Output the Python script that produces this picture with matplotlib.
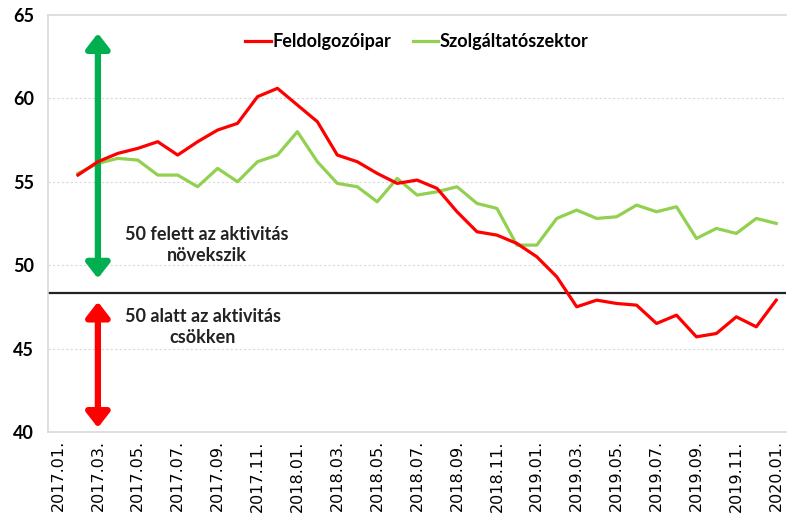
import matplotlib
matplotlib.use('Agg')
import matplotlib.pyplot as plt

months = ['2017.01.', '2017.02.', '2017.03.', '2017.04.', '2017.05.', '2017.06.', '2017.07.',
          '2017.08.', '2017.09.', '2017.10.', '2017.11.', '2017.12.', '2018.01.', '2018.02.',
          '2018.03.', '2018.04.', '2018.05.', '2018.06.', '2018.07.', '2018.08.', '2018.09.',
          '2018.10.', '2018.11.', '2018.12.', '2019.01.', '2019.02.', '2019.03.', '2019.04.',
          '2019.05.', '2019.06.', '2019.07.', '2019.08.', '2019.09.', '2019.10.', '2019.11.',
          '2019.12.', '2020.01.']

# data starts at 2017.02.
feldolgozoipar = [55.4, 56.2, 56.7, 57.0, 57.4, 56.6, 57.4, 58.1, 58.5, 60.1, 60.6, 59.6,
                  58.6, 56.6, 56.2, 55.5, 54.9, 55.1, 54.6, 53.2, 52.0, 51.8, 51.3, 50.5,
                  49.3, 47.5, 47.9, 47.7, 47.6, 46.5, 47.0, 45.7, 45.9, 46.9, 46.3, 47.9]
szolgaltatas = [55.5, 56.1, 56.4, 56.3, 55.4, 55.4, 54.7, 55.8, 55.0, 56.2, 56.6, 58.0,
                56.2, 54.9, 54.7, 53.8, 55.2, 54.2, 54.4, 54.7, 53.7, 53.4, 51.2, 51.2,
                52.8, 53.3, 52.8, 52.9, 53.6, 53.2, 53.5, 51.6, 52.2, 51.9, 52.8, 52.5]
threshold = 48.3

x = list(range(1, len(months)))

fig = plt.figure(figsize=(7.87, 5.16), dpi=100)
ax = fig.add_axes([0.061, 0.163, 0.938, 0.808])

ax.plot(x, feldolgozoipar, color='#FF0000', lw=2.3, label='Feldolgozóipar', zorder=4)
ax.plot(x, szolgaltatas, color='#92D050', lw=2.3, label='Szolgáltatószektor', zorder=3)
ax.axhline(threshold, color='#222222', lw=1.6, zorder=2)

ax.set_xlim(-0.5, len(months) - 0.5)
ax.set_ylim(40, 65)
ax.set_yticks([40, 45, 50, 55, 60, 65])
ax.set_xticks(range(0, len(months), 2))
ax.set_xticklabels(months[::2], rotation=90, fontsize=11.5,
                   family=['Liberation Sans Narrow', 'DejaVu Sans'])
for lbl in ax.get_yticklabels():
    lbl.set_fontweight('bold')
    lbl.set_fontsize(13)
    lbl.set_family('Lato')
ax.tick_params(length=0)
ax.tick_params(axis='y', pad=10)
ax.tick_params(axis='x', pad=6)

for y in [45, 50, 55, 60]:
    ax.axhline(y, color='#d9d9d9', lw=0.8, ls=(0, (2, 2)), zorder=1)
for s in ['left', 'bottom', 'top']:
    ax.spines[s].set_color('#d9d9d9')
    ax.spines[s].set_linewidth(1.2)
ax.spines['right'].set_visible(False)

# arrows
ax.annotate('', xy=(2, 63.9), xytext=(2, 49.2),
            arrowprops=dict(arrowstyle='<|-|>,head_width=0.35,head_length=0.45',
                            color='#00B050', lw=4.5, mutation_scale=20,
                            shrinkA=0, shrinkB=0))
ax.annotate('', xy=(2, 47.8), xytext=(2, 40.25),
            arrowprops=dict(arrowstyle='<|-|>,head_width=0.35,head_length=0.45',
                            color='#FF0000', lw=4.5, mutation_scale=20,
                            shrinkA=0, shrinkB=0))

ax.text(7.45, 51.2, '50 felett az aktivitás\nnövekszik', ha='center', va='center',
        fontsize=13, fontweight='bold', family='Lato', color='#222222', linespacing=1.25)
ax.text(7.25, 46.3, '50 alatt az aktivitás\ncsökken', ha='center', va='center',
        fontsize=13, fontweight='bold', family='Lato', color='#222222', linespacing=1.25)

leg = ax.legend(loc='upper center', bbox_to_anchor=(0.5, 0.995), ncol=2, frameon=False,
                handlelength=1.4, handletextpad=0.1, columnspacing=1.2,
                prop={'family': 'Lato', 'weight': 'bold', 'size': 13})

fig.savefig('out.png', dpi=100)
